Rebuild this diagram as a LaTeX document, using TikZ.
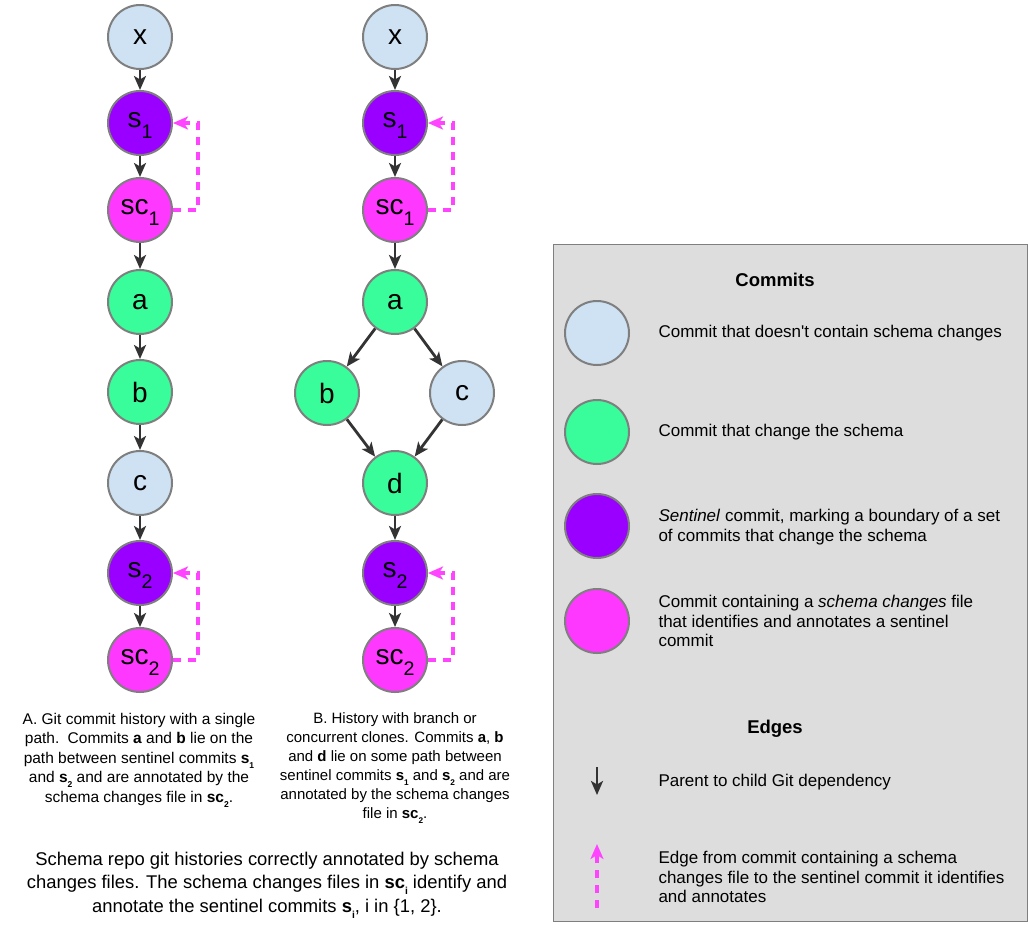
\documentclass[tikz,border=0pt]{standalone}
\usepackage{fontspec}
\setmainfont{Liberation Sans}
\usetikzlibrary{arrows.meta}
\definecolor{cblue}{HTML}{CFE2F3}
\definecolor{cgreen}{HTML}{38FD9A}
\definecolor{cpurple}{HTML}{9900FF}
\definecolor{cpink}{HTML}{FF38FF}
\definecolor{cborder}{HTML}{7F7F7F}
\definecolor{carrow}{HTML}{333333}
\definecolor{cpinkline}{HTML}{FF44FF}
\definecolor{legbg}{HTML}{DDDDDD}
\newcommand\nsub[1]{\raisebox{-0.38em}[0pt][0.2em]{\scalebox{0.7}{#1}}}
\newcommand\csub[1]{\raisebox{-0.32em}{\scalebox{0.55}{#1}}}
\begin{document}
\begin{tikzpicture}[x=1pt,y=-1pt,
  commit/.style={circle,draw=cborder,line width=2pt,minimum size=64pt,inner sep=0pt,font=\fontsize{28}{30}\selectfont},
  plainc/.style={commit,fill=cblue},
  changec/.style={commit,fill=cgreen},
  sentc/.style={commit,fill=cpurple},
  scc/.style={commit,fill=cpink},
  parent/.style={draw=carrow,line width=2.8pt,-{Stealth[length=14pt,width=12pt,inset=3.5pt]}},
  annot/.style={draw=cpinkline,line width=4pt,dash pattern=on 8pt off 7pt,-{Stealth[length=15pt,width=13pt,inset=4pt]}},
  capt/.style={align=center,font=\fontsize{15.5}{19.5}\selectfont},
  legtext/.style={anchor=west,align=left,font=\fontsize{17}{19.8}\selectfont},
  leghead/.style={font=\bfseries\fontsize{18.5}{20}\selectfont},
]
\useasboundingbox (0,0) rectangle (1028,930);
\fill[white] (0,0) rectangle (1028,930);

% legend box
\node[draw=cborder,fill=legbg,line width=1pt,minimum width=474pt,minimum height=677pt,anchor=north west,inner sep=0pt] (legend) at (553,244) {};

% column A
\node[plainc] (xa) at (140,37) {x};
\node[sentc] (s1a) at (140,123) {s\nsub{1}};
\node[scc] (sc1a) at (140,210) {sc\nsub{1}};
\node[changec] (aa) at (140,302) {a};
\node[changec] (ba) at (140,392) {b};
\node[plainc] (ca) at (140,483) {c};
\node[sentc] (s2a) at (140,573) {s\nsub{2}};
\node[scc] (sc2a) at (140,660) {sc\nsub{2}};
\draw[parent] (xa) -- (s1a);
\draw[parent] (s1a) -- (sc1a);
\draw[parent] (sc1a) -- (aa);
\draw[parent] (aa) -- (ba);
\draw[parent] (ba) -- (ca);
\draw[parent] (ca) -- (s2a);
\draw[parent] (s2a) -- (sc2a);
\draw[annot] (sc1a.east) -- ++(25,0) |- (s1a.east);
\draw[annot] (sc2a.east) -- ++(25,0) |- (s2a.east);

% column B
\node[plainc] (xb) at (395,37) {x};
\node[sentc] (s1b) at (395,123) {s\nsub{1}};
\node[scc] (sc1b) at (395,210) {sc\nsub{1}};
\node[changec] (ab) at (395,302) {a};
\node[changec] (bb) at (327,393) {b};
\node[plainc] (cb) at (462,393) {c};
\node[changec] (db) at (395,483) {d};
\node[sentc] (s2b) at (395,573) {s\nsub{2}};
\node[scc] (sc2b) at (395,660) {sc\nsub{2}};
\draw[parent] (xb) -- (s1b);
\draw[parent] (s1b) -- (sc1b);
\draw[parent] (sc1b) -- (ab);
\draw[parent] (ab) -- (bb);
\draw[parent] (ab) -- (cb);
\draw[parent] (bb) -- (db);
\draw[parent] (cb) -- (db);
\draw[parent] (db) -- (s2b);
\draw[parent] (s2b) -- (sc2b);
\draw[annot] (sc1b.east) -- ++(25,0) |- (s1b.east);
\draw[annot] (sc2b.east) -- ++(25,0) |- (s2b.east);

% captions
\node[capt] (capA) at (139,760) {A. Git commit history with a single\\ path.\, Commits \textbf{a} and \textbf{b} lie on the\\ path between sentinel commits \textbf{s\csub{1}}\\ and \textbf{s\csub{2}} and are annotated by the\\ schema changes file in \textbf{sc\csub{2}}.};
\node[capt,font=\fontsize{15}{19}\selectfont] (capB) at (395,768) {B. History with branch or\\ concurrent clones. Commits \textbf{a}, \textbf{b}\\ and \textbf{d} lie on some path between\\ sentinel commits \textbf{s\csub{1}} and \textbf{s\csub{2}} and are\\ annotated by the schema changes\\ file in \textbf{sc\csub{2}}.};
\node[align=center,font=\fontsize{18.4}{23.5}\selectfont] (capMain) at (267,885) {Schema repo git histories correctly annotated by schema\\ changes files. The schema changes files in \textbf{sc\csub{i}} identify and\\ annotate the sentinel commits \textbf{s\csub{i}}, i in \{1, 2\}.};

% legend contents
\node[leghead] (hcommits) at (775,280) {Commits};
\node[plainc] (lg1) at (597,333) {};
\node[changec] (lg2) at (597,432) {};
\node[sentc] (lg3) at (597,526) {};
\node[scc] (lg4) at (597,621) {};
\node[legtext] (lt1) at (655,333) {Commit that doesn\textquotesingle t contain schema changes};
\node[legtext] (lt2) at (655,432) {Commit that change the schema};
\node[legtext] (lt3) at (655,527) {\textit{Sentinel} commit, marking a boundary of a set\\ of commits that change the schema};
\node[legtext] (lt4) at (655,621) {Commit containing a \textit{schema changes} file\\ that identifies and annotates a sentinel\\ commit};
\node[leghead] (hedges) at (775,729) {Edges};
\coordinate (pa1) at (597,767);
\coordinate (pa2) at (597,795);
\draw[parent] (pa1) -- (pa2);
\node[legtext] (lt5) at (655,782) {Parent to child Git dependency};
\coordinate (pb1) at (597,908);
\coordinate (pb2) at (597,844);
\draw[annot] (pb1) -- (pb2);
\node[legtext] (lt6) at (655,877) {Edge from commit containing a schema\\ changes file to the sentinel commit it identifies\\ and annotates};
\end{tikzpicture}
\end{document}
